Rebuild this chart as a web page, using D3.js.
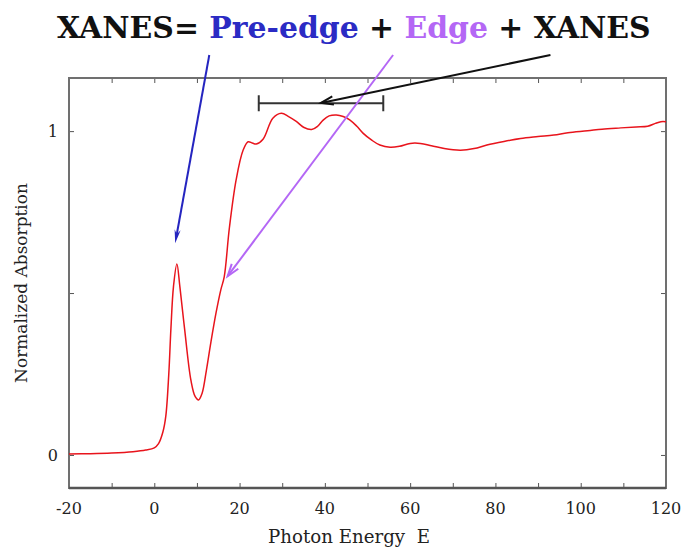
<!DOCTYPE html>
<html>
<head>
<meta charset="utf-8">
<script src="https://cdn.jsdelivr.net/npm/d3@7"></script>
<style>
  body { margin: 0; background: #fff; }
  svg { display: block; }
</style>
</head>
<body>
<div id="chart"></div>
<script>
// curve
const energy = [-20, -15, -10, -5, -2, 0, 1, 2, 2.7, 3.4, 3.9, 4.5, 5.3, 6.0, 7.1, 8.6, 9.6, 10.4, 11.2, 12.2,
  13.3, 14.5, 15.6, 16.4, 17.6, 19.2, 20.8, 22.0, 23.0, 23.9, 25.5, 27.8, 29.8, 31.5, 33.3, 35.0, 36.9, 38.3,
  39.6, 41.0, 42.7, 44.3, 45.9, 47.5, 49, 51, 52.9, 55.3, 57.5, 60, 62.4, 65, 68, 71.8, 75, 78, 82, 85.9, 90,
  93.7, 97, 101.6, 105, 109.4, 113, 115.7, 117.5, 118.8, 120];
const absorption = [0.003, 0.004, 0.006, 0.010, 0.015, 0.022, 0.035, 0.07, 0.12, 0.25, 0.39, 0.52, 0.59, 0.52,
  0.39, 0.23, 0.18, 0.17, 0.19, 0.26, 0.35, 0.44, 0.51, 0.55, 0.70, 0.85, 0.94, 0.967, 0.963, 0.96, 0.975, 1.04,
  1.055, 1.045, 1.03, 1.012, 1.005, 1.015, 1.034, 1.047, 1.05, 1.045, 1.034, 1.015, 0.993, 0.972, 0.957, 0.95,
  0.953, 0.962, 0.962, 0.955, 0.946, 0.941, 0.946, 0.957, 0.968, 0.977, 0.983, 0.988, 0.995, 1.001, 1.006,
  1.01, 1.013, 1.015, 1.024, 1.029, 1.029];

const xTicks = [-20, 0, 20, 40, 60, 80, 100, 120];
const xMinorTicks = d3.range(-20, 121, 10);
const yTicks = [0, 1];
const yMinorTicks = [0, 0.5, 1];

const titleParts = [
  { text: "XANES= ", color: "#111" },
  { text: "Pre-edge", color: "#2b2bc4" },
  { text: " + ", color: "#111" },
  { text: "Edge", color: "#b467f5" },
  { text: " + XANES", color: "#111" }
];

// arrows: start is above the frame, in data units
const arrows = [
  { from: [12.9, 1.235], to: [4.9, 0.654], color: "#2525c0", head: "filled" },
  { from: [56, 1.235], to: [17.2, 0.552], color: "#b467f5", head: "open" },
  { from: [92.9, 1.235], to: [39.1, 1.087], color: "#111", head: "open" }
];
const xanesRange = [24.5, 53.7];
const xanesLevel = 1.086;

const width = 684, height = 547;
const margin = { top: 78, right: 18, bottom: 59, left: 69 };

const x = d3.scaleLinear().domain([-20, 120]).range([margin.left, width - margin.right]);
const y = d3.scaleLinear().domain([-0.102, 1.164]).range([height - margin.bottom, margin.top]);

const svg = d3.select("#chart").append("svg")
  .attr("width", width)
  .attr("height", height);

const serif = "DejaVu Serif";

// fit a text element to a given width
const fit = (sel, size, target) => {
  const len = sel.node().getComputedTextLength();
  sel.attr("font-size", size * target / len);
};

// title
const title = svg.append("text")
  .attr("x", 57)
  .attr("y", 38)
  .attr("xml:space", "preserve")
  .attr("font-family", serif)
  .attr("font-weight", "bold")
  .attr("font-size", 30);
title.selectAll("tspan")
  .data(titleParts)
  .join("tspan")
  .attr("fill", d => d.color)
  .text(d => d.text);
fit(title, 30, 594);

// axes, ticks inward
const frame = svg.append("g");
frame.append("g")
  .attr("transform", `translate(0,${y.range()[0]})`)
  .call(d3.axisBottom(x).tickValues(xMinorTicks).tickSize(-5).tickFormat(""));
frame.append("g")
  .attr("transform", `translate(0,${y.range()[1]})`)
  .call(d3.axisTop(x).tickValues(xMinorTicks).tickSize(-5).tickFormat(""));
frame.append("g")
  .attr("transform", `translate(${x.range()[0]},0)`)
  .call(d3.axisLeft(y).tickValues(yMinorTicks).tickSize(-5).tickFormat(""));
frame.append("g")
  .attr("transform", `translate(${x.range()[1]},0)`)
  .call(d3.axisRight(y).tickValues(yMinorTicks).tickSize(-5).tickFormat(""));
frame.selectAll(".domain").remove();
frame.selectAll(".tick line").attr("stroke", "#555").attr("stroke-width", 1);

svg.append("rect")
  .attr("x", x.range()[0])
  .attr("y", y.range()[1])
  .attr("width", x.range()[1] - x.range()[0])
  .attr("height", y.range()[0] - y.range()[1])
  .attr("fill", "none")
  .attr("stroke", "#707070")
  .attr("stroke-width", 2);

svg.append("line")
  .attr("x1", x.range()[0]).attr("x2", x.range()[1])
  .attr("y1", y.range()[0]).attr("y2", y.range()[0])
  .attr("stroke", "#555")
  .attr("stroke-width", 2.5);

// tick labels
svg.append("g")
  .attr("font-family", serif)
  .attr("font-size", 16)
  .attr("fill", "#222")
  .attr("text-anchor", "middle")
  .selectAll("text")
  .data(xTicks)
  .join("text")
  .attr("x", d => x(d))
  .attr("y", y.range()[0] + 26)
  .text(d => d);

svg.append("g")
  .attr("font-family", serif)
  .attr("font-size", 16)
  .attr("fill", "#222")
  .attr("text-anchor", "end")
  .selectAll("text")
  .data(yTicks)
  .join("text")
  .attr("x", x.range()[0] - 11)
  .attr("y", d => y(d))
  .attr("dy", "0.38em")
  .text(d => d);

// axis titles
const xTitle = svg.append("text")
  .attr("x", 349)
  .attr("y", 543)
  .attr("text-anchor", "middle")
  .attr("font-family", serif)
  .attr("font-size", 16)
  .attr("fill", "#222")
  .attr("xml:space", "preserve")
  .text("Photon Energy  E");
fit(xTitle, 16, 162);

const yTitle = svg.append("text")
  .attr("transform", "translate(27,283) rotate(-90)")
  .attr("text-anchor", "middle")
  .attr("font-family", serif)
  .attr("font-size", 15)
  .attr("fill", "#222")
  .text("Normalized Absorption");
fit(yTitle, 15, 200);

// spectrum
const data = energy.map((e, i) => ({ e, a: absorption[i] }));
svg.append("path")
  .datum(data)
  .attr("fill", "none")
  .attr("stroke", "#e8141c")
  .attr("stroke-width", 1.5)
  .attr("d", d3.line()
    .x(d => x(d.e))
    .y(d => y(d.a))
    .curve(d3.curveCatmullRom.alpha(0.5)));

// XANES range bar
const bar = svg.append("g").attr("stroke", "#333").attr("stroke-width", 2);
bar.append("line")
  .attr("x1", x(xanesRange[0])).attr("x2", x(xanesRange[1]))
  .attr("y1", y(xanesLevel)).attr("y2", y(xanesLevel));
bar.selectAll(".cap")
  .data(xanesRange)
  .join("line")
  .attr("class", "cap")
  .attr("x1", d => x(d)).attr("x2", d => x(d))
  .attr("y1", y(xanesLevel) - 8).attr("y2", y(xanesLevel) + 8);

// arrows
const arrowG = svg.append("g");
arrows.forEach(a => {
  const x0 = x(a.from[0]), y0 = y(a.from[1]);
  const x1 = x(a.to[0]), y1 = y(a.to[1]);
  const ang = Math.atan2(y1 - y0, x1 - x0);
  const filled = a.head === "filled";
  const len = filled ? 14 : 13;
  const spread = filled ? 0.22 : 0.32;
  const p1 = [x1 - len * Math.cos(ang - spread), y1 - len * Math.sin(ang - spread)];
  const p2 = [x1 - len * Math.cos(ang + spread), y1 - len * Math.sin(ang + spread)];
  arrowG.append("line")
    .attr("x1", x0).attr("y1", y0)
    .attr("x2", filled ? x1 - 8 * Math.cos(ang) : x1)
    .attr("y2", filled ? y1 - 8 * Math.sin(ang) : y1)
    .attr("stroke", a.color)
    .attr("stroke-width", 2);
  if (filled) {
    arrowG.append("path")
      .attr("d", `M${x1},${y1}L${p1[0]},${p1[1]}L${x1 - 9 * Math.cos(ang)},${y1 - 9 * Math.sin(ang)}L${p2[0]},${p2[1]}Z`)
      .attr("fill", a.color);
  } else {
    arrowG.append("path")
      .attr("d", `M${p1[0]},${p1[1]}L${x1},${y1}L${p2[0]},${p2[1]}`)
      .attr("fill", "none")
      .attr("stroke", a.color)
      .attr("stroke-width", 2);
  }
});
</script>
</body>
</html>
